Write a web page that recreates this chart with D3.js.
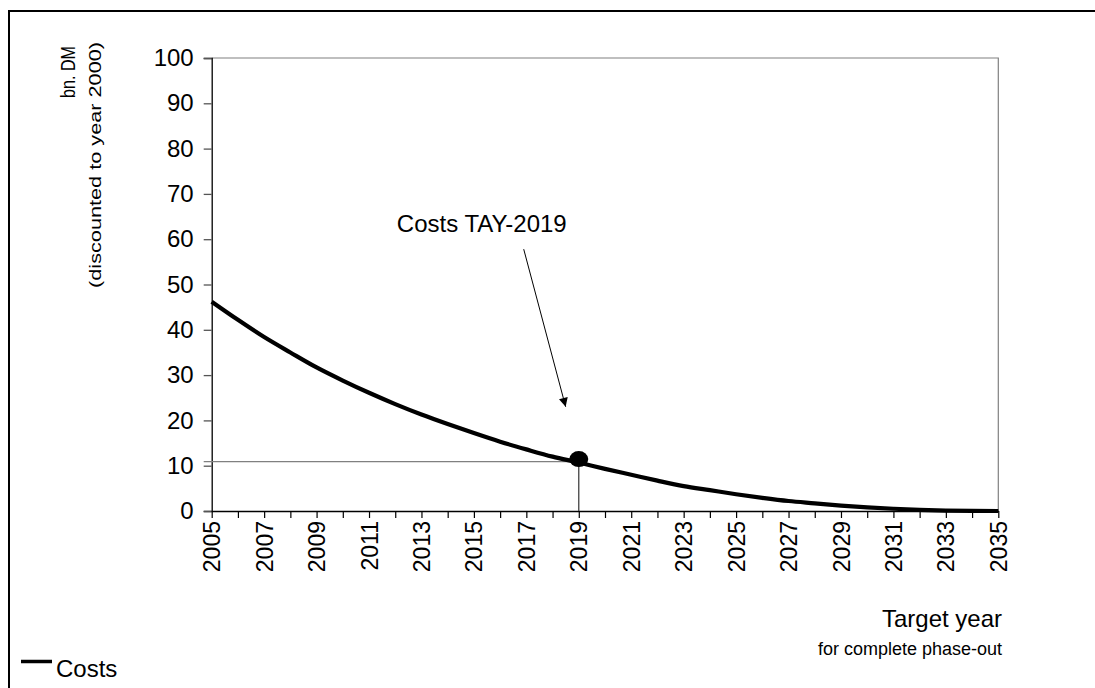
<!DOCTYPE html>
<html>
<head>
<meta charset="utf-8">
<script src="https://cdn.jsdelivr.net/npm/d3@7"></script>
<style>
  html, body { margin: 0; padding: 0; background: #fff; }
  svg { display: block; font-family: "Liberation Sans", Arial, sans-serif; }
</style>
</head>
<body>
<svg id="chart" width="1095" height="688"></svg>
<script>
// ---- Data ----
const years = [2005,2006,2007,2008,2009,2010,2011,2012,2013,2014,2015,2016,2017,2018,2019,2020,2021,2022,2023,2024,2025,2026,2027,2028,2029,2030,2031,2032,2033,2034,2035];
const costs = [46.2,42.2,38.4,35.0,31.7,28.8,26.1,23.6,21.3,19.2,17.2,15.3,13.6,12.0,10.7,9.3,8.0,6.7,5.5,4.6,3.7,2.9,2.2,1.7,1.2,0.8,0.5,0.25,0.1,0.03,0.0];
const yTicks = [0,10,20,30,40,50,60,70,80,90,100];
const xLabelYears = [2005,2007,2009,2011,2013,2015,2017,2019,2021,2023,2025,2027,2029,2031,2033,2035];
const seriesName = "Costs";
const markerYear = 2019;
const markerValue = 10.9;
const annotationText = "Costs TAY-2019";
const annotationPos = {year: 2015.3, value: 61.6};
const arrowFrom = {year: 2016.9, value: 57.8};
const arrowTo = {year: 2018.5, value: 23.0};
const yTitle = "bn. DM";
const ySubtitle = "(discounted to year 2000)";
const xTitle = "Target year";
const xSubtitle = "for complete phase-out";

(function () {
const svg = d3.select("#chart");
const pL = 211.7, pR = 998.3, pT = 58, pB = 511;
const x = d3.scaleLinear().domain([2005, 2035]).range([pL, pR]);
const y = d3.scaleLinear().domain([0, 100]).range([pB, pT]);
const FONT = "'Liberation Sans', Arial, sans-serif";

// outer frame (partly cropped)
svg.append("path").attr("d", "M9,700 L9,11 L1100,11")
  .attr("fill", "none").attr("stroke", "#000").attr("stroke-width", 2);

// plot area border top/right
svg.append("path")
  .attr("d", `M${pL},${pT} L${pR},${pT} L${pR},${pB}`)
  .attr("fill", "none").attr("stroke", "#808080").attr("stroke-width", 1.2);

// Y axis
const yAxis = d3.axisLeft(y).tickValues(yTicks).tickSize(8).tickPadding(10).tickFormat(d3.format("d"));
const gy = svg.append("g").attr("transform", `translate(${pL},0)`).call(yAxis);
gy.select(".domain").attr("stroke", "#000").attr("stroke-width", 1.3);
gy.selectAll(".tick line").attr("stroke", "#555").attr("stroke-width", 1.3);
gy.selectAll(".tick text").attr("font-size", 24).attr("fill", "#000").attr("font-family", FONT);

// X axis - ticks every year
const xAxis = d3.axisBottom(x).tickValues(years).tickSize(7).tickSizeOuter(0)
  .tickFormat(d => xLabelYears.includes(d) ? String(d) : "");
const gx = svg.append("g").attr("transform", `translate(0,${pB})`).call(xAxis);
gx.select(".domain").attr("stroke", "#000").attr("stroke-width", 1.3);
gx.selectAll(".tick line").attr("stroke", "#000").attr("stroke-width", 1.2);
gx.selectAll(".tick text")
  .attr("font-size", 23).attr("fill", "#000").attr("font-family", FONT)
  .attr("transform", "rotate(-90)")
  .attr("text-anchor", "end")
  .attr("x", -10).attr("y", 0).attr("dy", "0.35em");

// reference lines
svg.append("line")
  .attr("x1", pL - 8).attr("x2", x(markerYear))
  .attr("y1", y(markerValue)).attr("y2", y(markerValue))
  .attr("stroke", "#808080").attr("stroke-width", 1.3);
svg.append("line")
  .attr("x1", x(markerYear)).attr("x2", x(markerYear))
  .attr("y1", y(markerValue) - 2).attr("y2", y(0))
  .attr("stroke", "#333").attr("stroke-width", 1.2);

// cost curve
const line = d3.line().x((d, i) => x(years[i])).y(d => y(d)).curve(d3.curveMonotoneX);
svg.append("path").datum(costs).attr("d", line)
  .attr("fill", "none").attr("stroke", "#000").attr("stroke-width", 4.2);

// marker
svg.append("ellipse")
  .attr("cx", x(markerYear)).attr("cy", y(markerValue) - 2.5)
  .attr("rx", 9.5).attr("ry", 8).attr("fill", "#000");

// annotation arrow
const defs = svg.append("defs");
defs.append("marker").attr("id", "arr").attr("viewBox", "0 0 10 10")
  .attr("refX", 10).attr("refY", 5).attr("markerWidth", 12).attr("markerHeight", 9)
  .attr("markerUnits", "userSpaceOnUse").attr("orient", "auto")
  .append("path").attr("d", "M0,0 L10,5 L0,10 Z").attr("fill", "#000");
svg.append("line")
  .attr("x1", x(arrowFrom.year)).attr("y1", y(arrowFrom.value))
  .attr("x2", x(arrowTo.year)).attr("y2", y(arrowTo.value))
  .attr("stroke", "#000").attr("stroke-width", 1).attr("marker-end", "url(#arr)");
svg.append("text").attr("x", x(annotationPos.year)).attr("y", y(annotationPos.value))
  .attr("text-anchor", "middle").attr("font-size", 24).text(annotationText);

// Y title
svg.append("text").attr("transform", "translate(75,46) rotate(-90)")
  .attr("text-anchor", "end").attr("font-size", 21)
  .attr("textLength", 52).attr("lengthAdjust", "spacingAndGlyphs").text(yTitle);
svg.append("text").attr("transform", "translate(101,42) rotate(-90)")
  .attr("text-anchor", "end").attr("font-size", 17)
  .attr("textLength", 246).attr("lengthAdjust", "spacingAndGlyphs").text(ySubtitle);

// X title
svg.append("text").attr("x", 1002).attr("y", 627).attr("text-anchor", "end")
  .attr("font-size", 24).text(xTitle);
svg.append("text").attr("x", 1002).attr("y", 655).attr("text-anchor", "end")
  .attr("font-size", 18).text(xSubtitle);

// legend
svg.append("line").attr("x1", 21).attr("x2", 52).attr("y1", 661.5).attr("y2", 661.5)
  .attr("stroke", "#000").attr("stroke-width", 3.5);
svg.append("text").attr("x", 56).attr("y", 677).attr("font-size", 24).text(seriesName);
})();
</script>
</body>
</html>
